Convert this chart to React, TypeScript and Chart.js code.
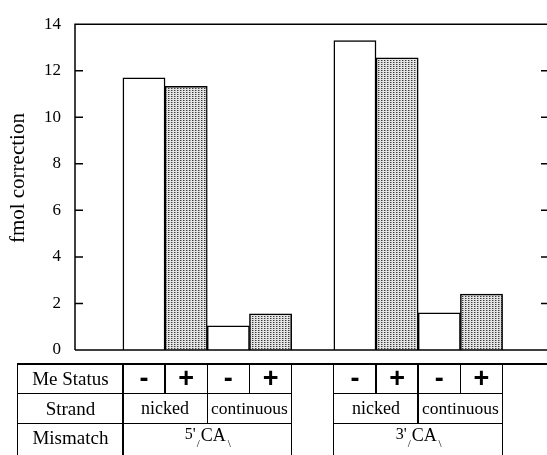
import React, { useEffect, useRef, useState } from "react";
import { Chart, registerables } from "chart.js";

Chart.register(...registerables);

// ---- data ----
const mismatchLabels = ["5'", "3'"];
const strandLabels = ["nicked", "continuous"];
const meStatusLabels = ["-", "+"];
// order: 5' nicked, 5' continuous, 3' nicked, 3' continuous
const meMinusValues = [11.7, 1.04, 13.3, 1.6];
const mePlusValues = [11.33, 1.55, 12.55, 2.4];
const yTicks = [0, 2, 4, 6, 8, 10, 12, 14];
const yAxisTitle = "fmol correction";
const rowLabels = ["Me Status", "Strand", "Mismatch"];

// slot index of each bar on the x scale (one empty slot between the mismatch groups)
const slotOf = (g: number, s: number, m: number) => 1 + g * 5 + s * 2 + m;
const conditions = mismatchLabels.flatMap((_, g) => strandLabels.map((_, s) => ({ g, s })));
const allSlots = conditions.flatMap((c) => meStatusLabels.map((_, m) => slotOf(c.g, c.s, m)));

const SERIF = '"Liberation Serif", "Times New Roman", serif';
const SANS = '"Liberation Sans", Arial, sans-serif';
const LW = 1.5;

function makePattern(): CanvasPattern | string {
  const tile = document.createElement("canvas");
  tile.width = 3;
  tile.height = 2;
  const c = tile.getContext("2d");
  if (!c) return "#bbb";
  c.fillStyle = "#e4e4e4";
  c.fillRect(0, 0, 3, 2);
  c.fillStyle = "#3a3a3a";
  c.fillRect(0, 0, 1, 1);
  c.fillStyle = "#9a9a9a";
  c.fillRect(1, 0, 1, 1);
  const ctx = document.createElement("canvas").getContext("2d");
  return (ctx && ctx.createPattern(tile, "repeat")) || "#bbb";
}

const framePlugin = {
  id: "frame",
  afterDraw(chart: any) {
    const { ctx, chartArea, scales } = chart;
    const { left, right, top, bottom } = chartArea;
    const y = scales.y;
    ctx.save();
    ctx.strokeStyle = "#000";
    ctx.lineWidth = LW;
    ctx.beginPath();
    ctx.moveTo(left, bottom);
    ctx.lineTo(left, top);
    ctx.lineTo(right, top);
    ctx.lineTo(right, bottom);
    ctx.lineTo(left, bottom);
    for (const v of yTicks) {
      if (v === yTicks[0] || v === yTicks[yTicks.length - 1]) continue;
      const py = y.getPixelForValue(v);
      ctx.moveTo(left, py);
      ctx.lineTo(left + 8, py);
      ctx.moveTo(right - 8, py);
      ctx.lineTo(right, py);
    }
    ctx.stroke();
    // y axis title
    ctx.translate(18, (top + bottom) / 2 - 9);
    ctx.rotate(-Math.PI / 2);
    ctx.fillStyle = "#000";
    ctx.font = `21px ${SERIF}`;
    ctx.textAlign = "center";
    ctx.textBaseline = "middle";
    ctx.fillText(yAxisTitle, 0, 0);
    ctx.restore();
  },
};

type Edges = number[][]; // per mismatch group: 5 x-pixel edges

function Box(props: {
  x1: number;
  x2: number;
  y1: number;
  y2: number;
  children?: React.ReactNode;
  style?: React.CSSProperties;
}) {
  const { x1, x2, y1, y2, children, style } = props;
  return (
    <div
      style={{
        position: "absolute",
        left: x1 - LW / 2,
        top: y1 - LW / 2,
        width: x2 - x1 + LW,
        height: y2 - y1 + LW,
        border: `${LW}px solid #000`,
        boxSizing: "border-box",
        display: "flex",
        alignItems: "center",
        justifyContent: "center",
        color: "#000",
        whiteSpace: "nowrap",
        ...style,
      }}
    >
      {children}
    </div>
  );
}

function Mismatch({ prime }: { prime: string }) {
  return (
    <div style={{ fontFamily: SERIF, fontSize: 18, lineHeight: "18px", marginLeft: -4 }}>
      <span style={{ fontSize: 16, position: "relative", top: -2 }}>{prime}</span>
      <span style={{ position: "relative", marginLeft: 5 }}>
        CA
        <span style={{ position: "absolute", left: -4, top: 13, fontSize: 11, lineHeight: "11px" }}>/</span>
        <span style={{ position: "absolute", right: -5, top: 13, fontSize: 11, lineHeight: "11px" }}>\</span>
      </span>
    </div>
  );
}

export default function App() {
  const canvasRef = useRef<HTMLCanvasElement | null>(null);
  const [edges, setEdges] = useState<Edges | null>(null);

  useEffect(() => {
    const canvas = canvasRef.current;
    if (!canvas) return;
    const pattern = makePattern();
    const chart = new Chart(canvas, {
      type: "bar",
      data: {
        datasets: [
          {
            label: "Me -",
            data: conditions.map((c, i) => ({ x: slotOf(c.g, c.s, 0), y: meMinusValues[i] })),
            backgroundColor: "#ffffff",
            borderColor: "#000",
            borderWidth: LW,
            grouped: false,
            barPercentage: 1,
            categoryPercentage: 1,
          } as any,
          {
            label: "Me +",
            data: conditions.map((c, i) => ({ x: slotOf(c.g, c.s, 1), y: mePlusValues[i] })),
            backgroundColor: pattern as any,
            borderColor: "#000",
            borderWidth: LW,
            grouped: false,
            barPercentage: 1,
            categoryPercentage: 1,
          } as any,
        ],
      },
      options: {
        responsive: false,
        animation: false,
        layout: { padding: { left: 0, right: 11, top: 24, bottom: 105 } },
        plugins: {
          legend: { display: false },
          tooltip: { enabled: false },
          title: { display: false },
        },
        scales: {
          x: {
            type: "linear",
            min: -0.635,
            max: 10.6,
            offset: false,
            display: false,
            grid: { offset: false },
            afterBuildTicks: (s: any) => {
              s.ticks = allSlots.map((v) => ({ value: v }));
            },
          },
          y: {
            min: 0,
            max: 14,
            afterBuildTicks: (s: any) => {
              s.ticks = yTicks.map((v) => ({ value: v }));
            },
            grid: { display: false, drawTicks: false },
            border: { display: false },
            ticks: { color: "#000", font: { family: SERIF, size: 17 }, padding: 14 },
            afterFit: (s: any) => {
              s.width = 75;
            },
          },
        },
      } as any,
      plugins: [framePlugin],
    });
    const xs: any = chart.scales.x;
    setEdges(
      mismatchLabels.map((_, g) => {
        const s0 = slotOf(g, 0, 0);
        return [0, 1, 2, 3, 4].map((k) => xs.getPixelForValue(s0 - 0.5 + k));
      })
    );
    return () => chart.destroy();
  }, []);

  const rows = [364, 393.5, 423.5, 462];
  const labelX = 18;

  return (
    <div
      style={{
        position: "fixed",
        left: 0,
        top: 0,
        width: 547,
        height: 455,
        overflow: "hidden",
        background: "#fff",
      }}
    >
      <canvas ref={canvasRef} width={560} height={455} style={{ display: "block" }} />
      {edges && (
        <>
          {/* top rule of the table */}
          <div
            style={{
              position: "absolute",
              left: labelX,
              top: rows[0] - LW / 2,
              width: 547 - labelX,
              height: LW,
              background: "#000",
            }}
          />
          {rowLabels.map((t, r) => (
            <Box
              key={t}
              x1={labelX}
              x2={edges[0][0]}
              y1={rows[r]}
              y2={rows[r + 1]}
              style={{
                fontFamily: SERIF,
                fontSize: 19,
                alignItems: r === 2 ? "flex-start" : "center",
                paddingTop: r === 2 ? 3 : 0,
              }}
            >
              {t}
            </Box>
          ))}
          {edges.map((e, g) => (
            <React.Fragment key={g}>
              {[0, 1, 2, 3].map((k) => (
                <Box
                  key={"m" + k}
                  x1={e[k]}
                  x2={e[k + 1]}
                  y1={rows[0]}
                  y2={rows[1]}
                  style={{ fontFamily: SANS, fontWeight: 700, fontSize: 27 }}
                >
                  {meStatusLabels[k % 2]}
                </Box>
              ))}
              {strandLabels.map((t, s) => (
                <Box
                  key={"s" + s}
                  x1={e[s * 2]}
                  x2={e[s * 2 + 2]}
                  y1={rows[1]}
                  y2={rows[2]}
                  style={{ fontFamily: SERIF, fontSize: s === 0 ? 18 : 17.5 }}
                >
                  {t}
                </Box>
              ))}
              <Box
                x1={e[0]}
                x2={e[4]}
                y1={rows[2]}
                y2={rows[3]}
                style={{ alignItems: "flex-start", paddingTop: 2 }}
              >
                <Mismatch prime={mismatchLabels[g]} />
              </Box>
            </React.Fragment>
          ))}
        </>
      )}
    </div>
  );
}
